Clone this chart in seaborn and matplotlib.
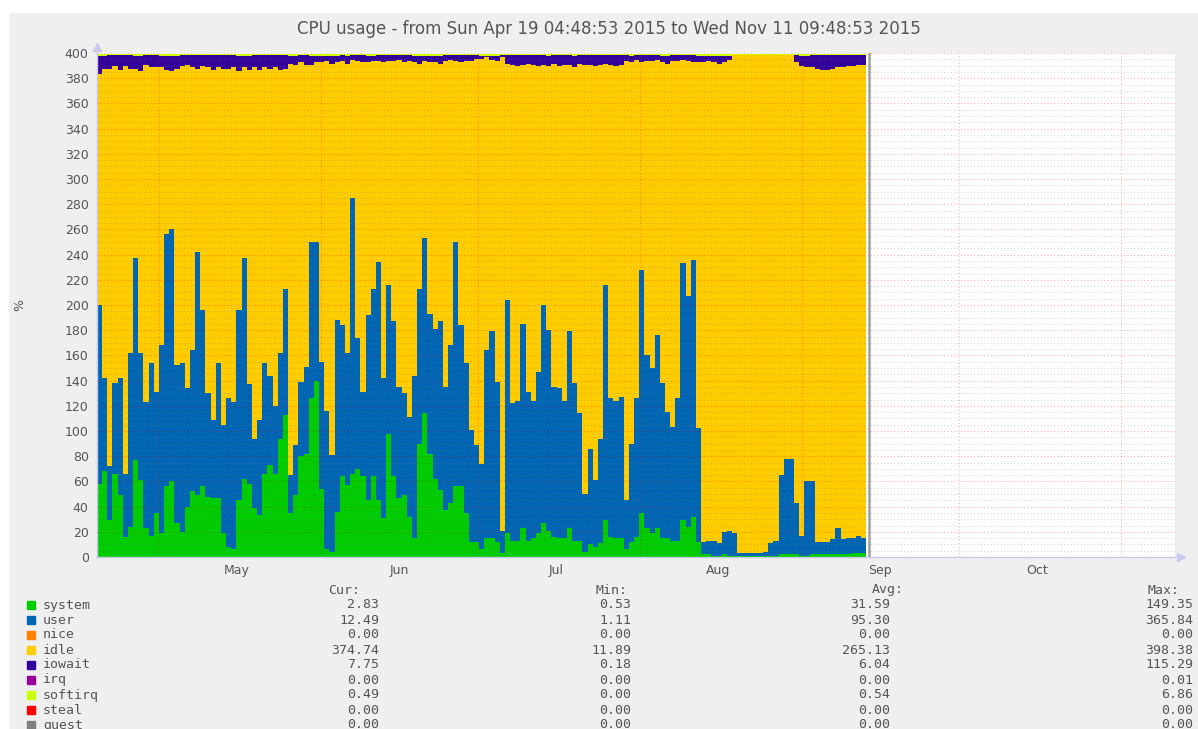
import numpy as np
import pandas as pd
import matplotlib
matplotlib.use("Agg")
import matplotlib.pyplot as plt
import matplotlib.dates as mdates
from matplotlib.patches import Rectangle
import seaborn as sns

# time range of the graph and of the recorded data
start = pd.Timestamp("2015-04-19 04:48:53")
end = pd.Timestamp("2015-11-11 09:48:53")
data_end = pd.Timestamp("2015-09-13 09:00:00")
capacity = 399  # 4 cores, top of the stack

# daily samples (percent)
system = [58, 68, 29, 66, 49, 16, 24, 77, 61, 23, 17, 35, 19, 56, 60, 27, 20, 40, 52, 49,
          56, 48, 47, 47, 19, 8, 6, 45, 62, 58, 39, 33, 66, 73, 66, 94, 113,
          35, 49, 80, 82, 126, 140, 54, 6, 4, 36, 64, 57, 66, 70, 64, 45, 64, 45, 31,
          98, 64, 47, 49, 32, 15, 90, 114, 82, 62, 53, 37, 43, 56, 56, 35, 12, 12,
          6, 15, 15, 12, 3, 19, 13, 13, 23, 13, 15, 19, 27, 21, 16, 15, 15, 23, 13, 13,
          4, 10, 8, 11, 29, 16, 15, 15, 6, 12, 16, 35, 23, 19, 23, 15, 15,
          13, 13, 29, 24, 32, 12, 2, 2, 1, 1, 2, 1, 1, 1, 1, 1, 1, 1, 1, 1,
          1, 2, 2, 2, 2, 1, 1, 2, 2, 2, 2, 2, 2, 2, 2, 3, 3, 3]

# top edge of the user band (system + user)
user_top = [200, 142, 72, 138, 142, 66, 162, 237, 162, 123, 154, 131, 168, 256, 260, 152, 154, 134, 164, 242,
            196, 130, 109, 154, 105, 126, 123, 196, 237, 137, 94, 109, 154, 144, 120, 162, 213,
            65, 89, 139, 151, 250, 250, 155, 116, 81, 188, 184, 162, 285, 174, 131, 192, 213, 234, 142,
            216, 187, 135, 130, 111, 144, 213, 253, 193, 181, 187, 135, 168, 250, 184, 154, 101, 89,
            74, 164, 179, 139, 21, 204, 122, 124, 185, 131, 124, 147, 200, 180, 135, 134, 124, 179, 138, 114,
            50, 86, 61, 94, 216, 126, 124, 127, 45, 90, 126, 228, 160, 150, 176, 138, 115,
            103, 126, 233, 207, 236, 102, 12, 13, 13, 11, 20, 21, 19, 3, 3, 3, 3, 3, 4, 11,
            13, 65, 78, 78, 43, 17, 60, 60, 12, 12, 12, 14, 23, 14, 15, 15, 17, 15]

iowait = [14, 10,
          11, 9, 12, 9, 11, 10, 12, 8, 10, 10, 9, 11, 12, 10, 9, 8, 10, 11, 9, 10,
          12, 10, 11, 11, 10, 12, 9, 11, 10, 12, 10, 11, 10, 12, 11,
          6, 7, 6, 8, 7, 5,
          5, 4, 6, 5, 5, 6, 4, 5, 6, 5, 4, 5, 6, 5, 5, 4, 6, 5, 5, 6, 4, 5, 5, 6, 5, 4, 5, 6, 5, 5,
          3, 2, 1, 3, 4, 2,
          7, 8, 9, 8, 7, 8, 9, 8, 8, 7, 9, 8, 8, 9, 7, 8, 8, 9, 8, 7, 8, 9, 8,
          5, 5, 4, 6, 5, 5, 4, 5, 6, 5, 5, 4, 5, 6, 5, 5, 4, 5, 6, 5, 3,
          0.5, 0.5, 0.5, 0.5, 0.5, 0.5, 0.5, 0.5, 0.5, 0.5, 0.5, 0.5,
          6, 8, 9, 10, 11, 12, 12, 11, 10, 10, 9, 9, 8, 8]

softirq = [1.5, 1.5, 0.4, 0.4, 0.4, 0.4, 0.4, 1.5, 1.5, 0.4, 0.4, 0.4, 1.5, 1.5, 1.5, 1.5, 0.4, 0.4, 0.4, 0.4,
           0.4, 0.4, 0.4, 0.4, 0.4, 0.4, 0.4, 1.5, 1.5, 1.5, 0.4, 0.4, 0.4, 0.4, 0.4, 0.4, 0.4, 1.5, 1.5, 0.4,
           0.4, 1.5, 1.5, 1.5, 1.5, 1.5, 1.5, 0.4, 1.5, 0.4, 0.4, 0.4, 1.5, 1.5, 0.4, 0.4, 0.4, 0.4, 0.4, 0.4,
           0.4, 1.5, 1.5, 1.5, 1.5, 1.5, 1.5, 0.4, 0.4, 0.4, 0.4, 0.4, 0.4, 0.4, 1.5, 1.5, 1.5, 1.5, 0.4, 0.4,
           0.4, 0.4, 0.4, 0.4, 0.4, 0.4, 0.4, 1.5, 0.4, 0.4, 0.4, 0.4, 1.5, 0.4, 0.4, 0.4, 0.4, 0.4, 0.4, 0.4,
           0.4, 0.4, 0.4, 1.5, 0.4, 0.4, 0.4, 0.4, 0.4, 1.5, 1.5, 0.4, 0.4, 0.4, 0.4, 0.4, 1.5, 1.5, 1.5, 1.5,
           1.5, 1.5, 1.5, 0.4, 0.4, 0.4, 0.4, 0.4, 0.4, 0.4, 0.4, 0.4, 0.4, 0.4, 0.4, 0.4, 1.5, 1.5, 0.4, 0.4,
           0.4, 0.4, 0.4, 0.4, 0.4, 0.4, 0.4, 0.4, 0.4]

# legend table
names = ["system", "user", "nice", "idle", "iowait", "irq", "softirq", "steal", "guest"]
colors = ["#00cc00", "#0066b3", "#ff8000", "#ffcc00", "#330099", "#990099", "#ccff00", "#ff0000", "#808080"]
cur = ["2.83", "12.49", "0.00", "374.74", "7.75", "0.00", "0.49", "0.00", "0.00"]
mins = ["0.53", "1.11", "0.00", "11.89", "0.18", "0.00", "0.00", "0.00", "0.00"]
avgs = ["31.59", "95.30", "0.00", "265.13", "6.04", "0.00", "0.54", "0.00", "0.00"]
maxs = ["149.35", "365.84", "0.00", "398.38", "115.29", "0.01", "6.86", "0.00", "0.00"]

months = ["May", "Jun", "Jul", "Aug", "Sep", "Oct"]

# build long table
system = np.array(system, float)
user = np.array(user_top, float) - system
iowait = np.array(iowait, float)
softirq = np.array(softirq, float)
idle = capacity - system - user - iowait - softirq

n = len(system)
edges = pd.date_range(start, data_end, periods=n + 1)
edge_num = mdates.date2num(edges.to_pydatetime())
centers = (edge_num[:-1] + edge_num[1:]) / 2

df = pd.concat([
    pd.DataFrame({"t": centers, "metric": m, "value": v})
    for m, v in [("system", system), ("user", user), ("idle", idle),
                 ("iowait", iowait), ("softirq", softirq)]
])

sns.set_style("white")
plt.rcParams["font.family"] = ["DejaVu Sans"]

W, H = 1198, 729
fig = plt.figure(figsize=(W / 100, H / 100), dpi=100)
fig.patch.set_facecolor("#efefef")
fig.add_artist(Rectangle((0, 1 - 12 / H), 1, 12 / H, transform=fig.transFigure, color="white", zorder=0))
fig.add_artist(Rectangle((0, 0), 8 / W, 1, transform=fig.transFigure, color="white", zorder=0))

ax = fig.add_axes([97 / W, 1 - 557 / H, 1078 / W, 504 / H])
ax.set_facecolor("white")

pal = {"system": "#00cc00", "user": "#0066b3", "idle": "#ffcc00", "iowait": "#330099", "softirq": "#ccff00"}
sns.histplot(data=df, x="t", weights="value", hue="metric",
             hue_order=["softirq", "iowait", "idle", "user", "system"],
             multiple="stack", element="step", bins=n,
             binrange=(edge_num[0], edge_num[-1]), palette=pal,
             alpha=1, linewidth=0, legend=False, ax=ax)

ax.set_xlabel("")
ax.set_ylabel("")
x0 = mdates.date2num(start.to_pydatetime())
x1 = mdates.date2num(end.to_pydatetime())
ax.set_xlim(x0, x1)
ax.set_ylim(0, 400)

# "now" line
ax.axvline(mdates.date2num((data_end + pd.Timedelta(hours=12)).to_pydatetime()),
           color="#a0a0a0", lw=1.8, zorder=3)

# ticks and grid
month_starts = mdates.date2num([pd.Timestamp(2015, m, 1).to_pydatetime() for m in range(5, 12)])
month_mids = mdates.date2num([pd.Timestamp(2015, m, 16).to_pydatetime() for m in range(5, 11)])
ax.set_xticks(month_starts)
ax.set_xticklabels([""] * len(month_starts))
ax.set_xticks(month_mids, minor=True)
ax.set_xticklabels(months, minor=True)
ax.tick_params(axis="x", which="major", length=4, color="#e06060", direction="out")
ax.tick_params(axis="x", which="minor", length=0, pad=5, labelsize=9, labelcolor="#555555")

ax.set_yticks(np.arange(0, 401, 20))
ax.set_yticks(np.arange(0, 401, 5), minor=True)
ax.tick_params(axis="y", which="major", length=2, color="#bbbbbb", pad=4, labelsize=9, labelcolor="#555555")
ax.tick_params(axis="y", which="minor", length=0)

ax.set_axisbelow(False)
ax.grid(which="major", axis="both", color="#ff0000", alpha=0.3, lw=0.8, linestyle=(0, (1, 2)))
ax.grid(which="minor", axis="y", color="#808080", alpha=0.3, lw=0.8, linestyle=(0, (1, 2)))
ax.grid(which="minor", axis="x", visible=False)

for s in ["top", "right"]:
    ax.spines[s].set_visible(False)
for s in ["left", "bottom"]:
    ax.spines[s].set_color("#c8c8ec")
    ax.spines[s].set_linewidth(1)
ax.plot([1.006], [0], marker=">", color="#c8c8f0", ms=6, transform=ax.transAxes, clip_on=False)
ax.plot([0], [1.012], marker="^", color="#c8c8f0", ms=6, transform=ax.transAxes, clip_on=False)


def fx(px):
    return px / W


def fy(py):
    return 1 - py / H


fig.text(fx(609), fy(29), "CPU usage - from Sun Apr 19 04:48:53 2015 to Wed Nov 11 09:48:53 2015",
         ha="center", va="center", fontsize=12, color="#555555")
fig.text(fx(20), fy(305), "%", rotation=90, ha="center", va="center", fontsize=9, color="#555555")

mono = dict(family="DejaVu Sans Mono", fontsize=9.5, color="#555555", va="center")
for hdr, xr in [("Cur:", 360), ("Min:", 628), ("Avg:", 904), ("Max:", 1180)]:
    fig.text(fx(xr), fy(590), hdr, ha="right", **mono)
for i, name in enumerate(names):
    yy = 605 + 15 * i
    fig.add_artist(Rectangle((fx(27), fy(yy + 4)), 8 / W, 8 / H, transform=fig.transFigure,
                             color=colors[i], zorder=2))
    fig.text(fx(43), fy(yy), name, ha="left", **mono)
    fig.text(fx(379), fy(yy), cur[i], ha="right", **mono)
    fig.text(fx(631), fy(yy), mins[i], ha="right", **mono)
    fig.text(fx(890), fy(yy), avgs[i], ha="right", **mono)
    fig.text(fx(1193), fy(yy), maxs[i], ha="right", **mono)

fig.savefig("out.png", dpi=100, facecolor=fig.get_facecolor())
